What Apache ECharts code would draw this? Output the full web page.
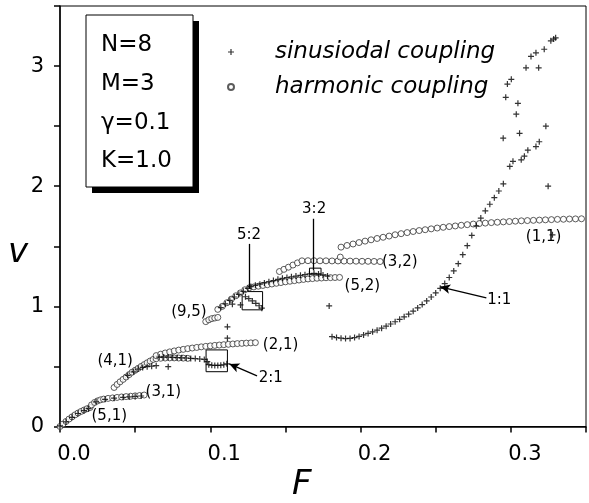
<!DOCTYPE html>
<html>
<head>
<meta charset="utf-8">
<script src="https://cdn.jsdelivr.net/npm/echarts@6/dist/echarts.min.js"></script>
<style>html,body{margin:0;padding:0;background:#fff}#c{width:589px;height:503px}</style>
</head>
<body>
<div id="c"></div>
<script>
// ---------- axis ticks ----------
const xTicks = [0.0, 0.1, 0.2, 0.3];
const yTicks = [0, 1, 2, 3];

// ---------- harmonic coupling (circles), by branch ----------
const harm51 = [[0.000,0.000],[0.002,0.020],[0.004,0.042],[0.006,0.062],[0.008,0.080],[0.010,0.097],[0.012,0.112],[0.014,0.125],[0.016,0.137],[0.018,0.148],[0.020,0.158]];
const harm31 = [[0.021,0.180],[0.023,0.200],[0.025,0.213],[0.027,0.222],[0.029,0.228],[0.032,0.234],[0.035,0.238],[0.038,0.242],[0.041,0.246],[0.044,0.249],[0.047,0.252],[0.050,0.255],[0.053,0.258],[0.056,0.262]];
const harm41 = [[0.036,0.325],[0.038,0.350],[0.040,0.372],[0.042,0.392],[0.044,0.412],[0.046,0.432],[0.048,0.452],[0.050,0.468],[0.052,0.484],[0.054,0.500],[0.056,0.515],[0.058,0.530],[0.060,0.545],[0.062,0.558],[0.064,0.564],[0.067,0.568],[0.070,0.570],[0.073,0.571],[0.076,0.571],[0.079,0.570],[0.082,0.569],[0.085,0.567]];
const harm21 = [[0.064,0.590],[0.067,0.602],[0.070,0.612],[0.073,0.621],[0.076,0.629],[0.079,0.636],[0.082,0.642],[0.085,0.648],[0.088,0.653],[0.091,0.658],[0.094,0.663],[0.097,0.667],[0.100,0.671],[0.103,0.675],[0.106,0.678],[0.109,0.681],[0.112,0.684],[0.115,0.687],[0.118,0.690],[0.121,0.692],[0.124,0.694],[0.127,0.696],[0.130,0.698]];
const harm95 = [[0.097,0.873],[0.099,0.888],[0.101,0.898],[0.103,0.903],[0.105,0.908]];
const harm52 = [[0.105,0.975],[0.108,1.000],[0.111,1.030],[0.114,1.060],[0.117,1.088],[0.120,1.112],[0.123,1.138],[0.126,1.155],[0.129,1.162],[0.132,1.168],[0.135,1.174],[0.138,1.180],[0.141,1.186],[0.144,1.192],[0.147,1.198],[0.150,1.204],[0.153,1.209],[0.156,1.214],[0.159,1.219],[0.162,1.224],[0.165,1.228],[0.168,1.231],[0.171,1.234],[0.174,1.236],[0.177,1.238],[0.180,1.239],[0.183,1.240],[0.186,1.241]];
const harm32 = [[0.146,1.290],[0.149,1.308],[0.152,1.326],[0.155,1.344],[0.158,1.362],[0.161,1.379],[0.165,1.380],[0.169,1.380],[0.173,1.379],[0.177,1.379],[0.181,1.378],[0.185,1.378],[0.189,1.377],[0.193,1.377],[0.197,1.376],[0.201,1.375],[0.205,1.375],[0.209,1.374],[0.213,1.373],[0.1865,1.410]];
const harm11 = [[0.187,1.493],[0.191,1.507],[0.195,1.519],[0.199,1.531],[0.203,1.543],[0.207,1.554],[0.211,1.565],[0.215,1.575],[0.219,1.585],[0.223,1.596],[0.227,1.605],[0.231,1.614],[0.235,1.623],[0.239,1.631],[0.243,1.638],[0.247,1.645],[0.251,1.652],[0.255,1.658],[0.259,1.664],[0.263,1.669],[0.267,1.675],[0.271,1.680],[0.275,1.685],[0.279,1.689],[0.283,1.693],[0.287,1.697],[0.291,1.700],[0.295,1.703],[0.299,1.706],[0.303,1.709],[0.307,1.712],[0.311,1.714],[0.315,1.716],[0.319,1.718],[0.323,1.720],[0.327,1.722],[0.331,1.724],[0.335,1.725],[0.339,1.727],[0.343,1.728],[0.347,1.729]];

// ---------- sinusoidal coupling (pluses), by branch ----------
const sin51 = [[0.000,0.005],[0.004,0.038],[0.008,0.076],[0.012,0.108],[0.016,0.132],[0.019,0.148]];
const sin31 = [[0.024,0.205],[0.030,0.226],[0.036,0.236],[0.042,0.243],[0.046,0.246],[0.050,0.250],[0.054,0.254]];
const sin41 = [[0.045,0.425],[0.049,0.455],[0.052,0.478],[0.055,0.492],[0.058,0.498],[0.061,0.502],[0.064,0.506],[0.072,0.498]];
const sin21 = [[0.066,0.578],[0.069,0.578],[0.072,0.577],[0.075,0.576],[0.078,0.574],[0.081,0.572],[0.084,0.570],[0.087,0.567],[0.090,0.565],[0.093,0.562],[0.096,0.558],[0.098,0.540],[0.099,0.515],[0.101,0.510],[0.103,0.508],[0.105,0.508],[0.107,0.510],[0.109,0.514],[0.111,0.522],[0.1114,0.735],[0.1114,0.830]];
const sin52 = [[0.107,0.990],[0.110,1.020],[0.113,1.050],[0.116,1.078],[0.119,1.100],[0.122,1.125],[0.125,1.150],[0.1147,1.018],[0.1201,1.012],[0.1234,1.080],[0.1256,1.065],[0.128,1.045],[0.1303,1.025],[0.1325,1.005],[0.1343,0.985],[0.127,1.165],[0.130,1.175],[0.133,1.185],[0.136,1.195],[0.139,1.205],[0.142,1.215],[0.145,1.225],[0.148,1.233],[0.151,1.240],[0.154,1.246],[0.157,1.252],[0.160,1.258],[0.163,1.264],[0.166,1.270],[0.169,1.275],[0.172,1.270],[0.175,1.262],[0.178,1.252],[0.1791,1.004]];
const sin11 = [[0.181,0.748],[0.184,0.740],[0.187,0.735],[0.190,0.732],[0.193,0.733],[0.196,0.740],[0.199,0.750],[0.202,0.762],[0.205,0.775],[0.208,0.788],[0.211,0.802],[0.214,0.818],[0.217,0.835],[0.220,0.853],[0.223,0.872],[0.226,0.892],[0.229,0.913],[0.232,0.935],[0.235,0.960],[0.238,0.987],[0.241,1.015],[0.244,1.045],[0.247,1.078],[0.250,1.112],[0.253,1.150],[0.256,1.190],[0.259,1.240],[0.262,1.295],[0.265,1.355],[0.268,1.430],[0.271,1.505],[0.274,1.590],[0.277,1.670],[0.280,1.735],[0.283,1.795],[0.286,1.850],[0.289,1.905],[0.292,1.960],[0.295,2.020],[0.3277,1.595]];
const sinTop = [[0.2993,2.165],[0.3014,2.207],[0.3069,2.220],[0.3090,2.250],[0.3113,2.300],[0.3167,2.330],[0.3189,2.370],[0.2949,2.400],[0.3058,2.440],[0.3233,2.500],[0.3036,2.600],[0.3047,2.690],[0.2966,2.740],[0.2977,2.850],[0.3003,2.890],[0.3101,2.985],[0.3185,2.985],[0.3134,3.080],[0.3167,3.110],[0.3222,3.140],[0.3266,3.210],[0.3285,3.225],[0.3298,3.235],[0.3248,2.000]];

// ---------- annotations ----------
const branchLabels = [['(5,1)',0.0328,0.0875],['(3,1)',0.0688,0.2875],['(4,1)',0.0367,0.546],['(2,1)',0.1468,0.679],['(9,5)',0.0858,0.954],['(3,2)',0.2261,1.371],['(5,2)',0.2012,1.171],['(1,1)',0.3218,1.579]];
const ratioLabels = [['2:1',0.1402,0.404],['5:2',0.1258,1.596],['3:2',0.1691,1.8125],['1:1',0.2923,1.054]];
const pointerLines = [[[0.1258,1.52],[0.1258,1.146],'none'],[[0.1684,1.729],[0.1684,1.300],'none'],[[0.2837,1.071],[0.2530,1.1625],'arrow'],[[0.1311,0.421],[0.1127,0.521],'arrow']];
const lockBoxes = [[[0.0972,0.456],[0.1114,0.6375]],[[0.1212,0.971],[0.1348,1.123]],[[0.166,1.268],[0.1737,1.318]]];
const params = ['N=8','M=3','\u03b3=0.1','K=1.0'];

const FONT = 'DejaVu Sans';
const plusPath = 'path://M2,0H3V2H5V3H3V5H2V3H0V2H2Z';
const isTick = (v, list) => list.some(t => Math.abs(t - v) < 1e-6);

const chart = echarts.init(document.getElementById('c'), null, {renderer:'canvas'});
const labelStyle = {show:true, position:'inside', formatter:'{b}', color:'#000', fontFamily:FONT, fontSize:15};

chart.setOption({
  animation:false,
  backgroundColor:'#fff',
  grid:{left:60, top:6, right:-5, bottom:76.5, show:true, borderColor:'#000', borderWidth:1},
  xAxis:{type:'value', min:0, max:0.35, interval:0.05,
    axisLine:{lineStyle:{color:'#000', width:1.5}},
    axisTick:{length:6, lineStyle:{color:'#000', width:1.5}},
    splitLine:{show:false},
    axisLabel:{color:'#000', fontFamily:FONT, fontSize:21, margin:18, padding:[0,0,0,28],
      formatter:v => isTick(v, xTicks) ? v.toFixed(1) : ''}},
  yAxis:{type:'value', min:0, max:3.5, interval:0.5,
    axisLine:{lineStyle:{color:'#000', width:1.5}},
    axisTick:{length:6, lineStyle:{color:'#000', width:1.5}},
    splitLine:{show:false},
    axisLabel:{color:'#000', fontFamily:FONT, fontSize:21, margin:16,
      formatter:v => isTick(v, yTicks) ? String(v) : ''}},
  legend:{data:['sinusiodal coupling','harmonic coupling'], orient:'vertical', left:227, top:39, padding:0,
    itemWidth:6, itemHeight:6, itemGap:9, selectedMode:false,
    textStyle:{fontFamily:FONT, fontStyle:'italic', fontSize:23, color:'#000', lineHeight:26, padding:[0,0,0,36]}},
  series:[
    {name:'harmonic coupling', type:'scatter', z:2,
      data:[].concat(harm51, harm31, harm41, harm21, harm95, harm52, harm32, harm11),
      symbol:'circle', symbolSize:6,
      itemStyle:{color:'#fff', borderColor:'#333', borderWidth:1}},
    {name:'sinusiodal coupling', type:'scatter', z:3,
      data:[].concat(sin51, sin31, sin41, sin21, sin52, sin11, sinTop),
      symbol:plusPath, symbolSize:6,
      itemStyle:{color:'#000'},
      markPoint:{symbol:'circle', symbolSize:0, silent:true,
        data:branchLabels.concat(ratioLabels).map(d => ({name:d[0], coord:[d[1], d[2]], label:labelStyle}))},
      markLine:{silent:true, animation:false, label:{show:false},
        lineStyle:{color:'#000', width:1.3, type:'solid'},
        data:pointerLines.map(p => [{coord:p[0], symbol:'none'}, {coord:p[1], symbol:p[2], symbolSize:[7,10]}])},
      markArea:{silent:true, itemStyle:{color:'rgba(0,0,0,0)', borderColor:'#000', borderWidth:1},
        data:lockBoxes.map(b => [{coord:b[0]}, {coord:b[1]}])}
    }
  ],
  graphic:[
    {type:'rect', shape:{x:92, y:21, width:107, height:172}, style:{fill:'#000'}},
    {type:'rect', shape:{x:86, y:15, width:107, height:172}, style:{fill:'#fff', stroke:'#000', lineWidth:1}},
    ...params.map((t, i) => ({type:'text', left:101, top:[34, 73, 112, 150][i],
      style:{text:t, font:'23px "DejaVu Sans"', fill:'#000'}})),
    {type:'text', left:8, top:236, style:{text:'v', font:'italic 34px "DejaVu Sans"', fill:'#000'}},
    {type:'text', left:292, top:468, style:{text:'F', font:'italic 34px "DejaVu Sans"', fill:'#000'}}
  ]
});
</script>
</body>
</html>
